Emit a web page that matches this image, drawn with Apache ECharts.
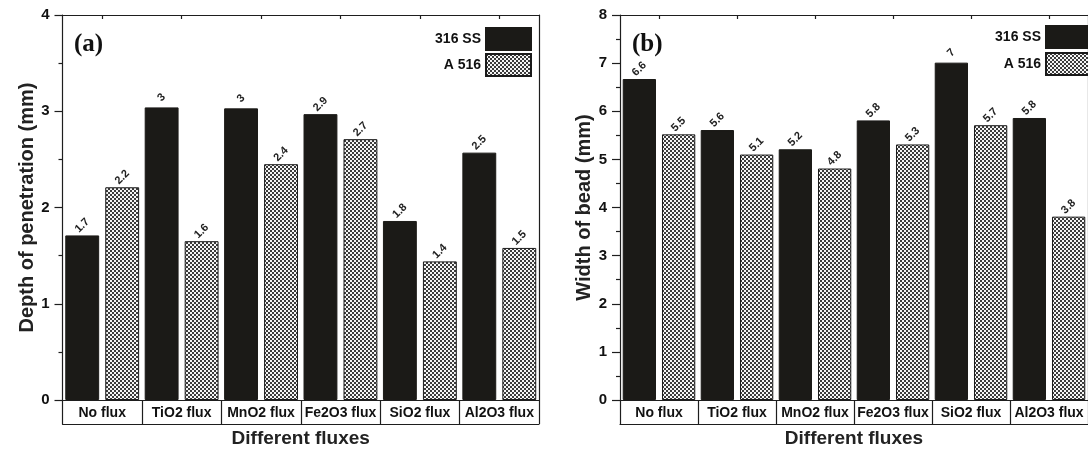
<!DOCTYPE html>
<html>
<head>
<meta charset="utf-8">
<script src="https://cdn.jsdelivr.net/npm/echarts@6/dist/echarts.min.js"></script>
<style>
html,body{margin:0;padding:0;background:#fff;}
#chart{width:1088px;height:455px;}
</style>
</head>
<body>
<div id="chart"></div>
<script>
const categories = ['No flux', 'TiO2 flux', 'MnO2 flux', 'Fe2O3 flux', 'SiO2 flux', 'Al2O3 flux'];
const seriesNames = ['316 SS', 'A 516'];
// (a) Depth of penetration (mm)
const depth316 = [1.71, 3.04, 3.03, 2.97, 1.86, 2.57];
const depthA516 = [2.21, 1.65, 2.45, 2.71, 1.44, 1.58];
const depth316Labels = ['1.7', '3', '3', '2.9', '1.8', '2.5'];
const depthA516Labels = ['2.2', '1.6', '2.4', '2.7', '1.4', '1.5'];
// (b) Width of bead (mm)
const width316 = [6.67, 5.61, 5.21, 5.81, 7.01, 5.86];
const widthA516 = [5.52, 5.10, 4.81, 5.31, 5.71, 3.81];
const width316Labels = ['6.6', '5.6', '5.2', '5.8', '7', '5.8'];
const widthA516Labels = ['5.5', '5.1', '4.8', '5.3', '5.7', '3.8'];

function makePattern() {
  const c = document.createElement('canvas');
  c.width = 4; c.height = 4;
  const g = c.getContext('2d');
  g.fillStyle = '#f6f6f6';
  g.fillRect(0, 0, 4, 4);
  g.fillStyle = '#3c3c3c';
  g.fillRect(0, 0, 2, 2);
  g.fillRect(2, 2, 2, 2);
  return c;
}
const hatch = { image: makePattern(), repeat: 'repeat' };

const FONT = 'Liberation Sans, Arial, sans-serif';
const AX = '#1e1e1e';

function gridAxes(gi, yMax, yName) {
  const x = [
    { // bottom, boxed category labels
      type: 'category', gridIndex: gi, data: categories, position: 'bottom',
      axisLine: { onZero: false, lineStyle: { color: AX, width: 1.2 } },
      axisTick: { show: true, alignWithLabel: false, length: 24, inside: false, lineStyle: { color: AX, width: 1.2 } },
      axisLabel: { margin: 6, color: '#111', fontFamily: FONT, fontWeight: 'bold', fontSize: 14, interval: 0 },
      name: 'Different fluxes', nameLocation: 'middle', nameGap: 29,
      nameTextStyle: { fontFamily: FONT, fontWeight: 'bold', fontSize: 19, color: '#222' }
    },
    { // bottom line of label boxes
      type: 'category', gridIndex: gi, data: categories, position: 'bottom', offset: 24,
      axisLine: { show: true, onZero: false, lineStyle: { color: AX, width: 1.2 } },
      axisTick: { show: false }, axisLabel: { show: false }
    },
    { // top frame
      type: 'category', gridIndex: gi, data: categories, position: 'top',
      axisLine: { onZero: false, lineStyle: { color: AX, width: 1.2 } },
      axisTick: { show: true, alignWithLabel: true, inside: true, length: 4, lineStyle: { color: AX, width: 1.2 } },
      axisLabel: { show: false }
    }
  ];
  const y = [
    {
      type: 'value', gridIndex: gi, min: 0, max: yMax, interval: 1, position: 'left',
      axisLine: { show: true, onZero: false, lineStyle: { color: AX, width: 1.2 } },
      axisTick: { show: true, length: 8, lineStyle: { color: AX, width: 1.2 } },
      minorTick: { show: true, splitNumber: 2, length: 4, lineStyle: { color: AX, width: 1.2 } },
      splitLine: { show: false },
      axisLabel: { margin: 13, color: '#111', fontFamily: FONT, fontWeight: 'bold', fontSize: 15 },
      name: yName, nameLocation: 'middle', nameGap: 25,
      nameTextStyle: { fontFamily: FONT, fontWeight: 'bold', fontSize: 20, color: '#222' }
    },
    {
      type: 'value', gridIndex: gi, min: 0, max: yMax, position: 'right',
      axisLine: { show: true, onZero: false, lineStyle: { color: AX, width: 1.2 } },
      axisTick: { show: false }, axisLabel: { show: false }, splitLine: { show: false }
    }
  ];
  return { x, y };
}

function barSeries(name, data, labels, xi, yi, isHatch) {
  return {
    type: 'bar', name: name, data: data, xAxisIndex: xi, yAxisIndex: yi,
    barCategoryGap: '7%', barGap: '18%',
    itemStyle: isHatch
      ? { color: hatch, borderColor: '#1a1a1a', borderWidth: 1 }
      : { color: '#1b1a17', borderColor: '#1b1a17', borderWidth: 1 },
    label: {
      show: true, position: 'top', distance: 10, rotate: 45,
      align: 'center', verticalAlign: 'middle',
      fontFamily: FONT, fontSize: 11, fontWeight: 'bold', color: '#222',
      formatter: p => labels[p.dataIndex]
    }
  };
}

const a = gridAxes(0, 4, 'Depth of penetration (mm)');
const b = gridAxes(1, 8, 'Width of bead (mm)');

const legendBase = {
  orient: 'vertical', itemWidth: 45, itemHeight: 22, align: 'right', icon: 'rect',
  data: [{ name: seriesNames[0] }, { name: seriesNames[1] }],
  textStyle: { fontFamily: FONT, fontWeight: 'bold', fontSize: 14, color: '#111' },
  selectedMode: false, padding: 0
};

const chart = echarts.init(document.getElementById('chart'), null, { renderer: 'canvas' });
chart.setOption({
  animation: false,
  backgroundColor: '#fff',
  title: [
    { text: '(a)', left: 69, top: 27, textStyle: { fontFamily: 'Liberation Serif, Times New Roman, serif', fontWeight: 'bold', fontSize: 25, color: '#111' } },
    { text: '(b)', left: 627, top: 27, textStyle: { fontFamily: 'Liberation Serif, Times New Roman, serif', fontWeight: 'bold', fontSize: 25, color: '#111' } }
  ],
  legend: [
    Object.assign({}, legendBase, { right: 556, top: 27, itemGap: 2 }),
    Object.assign({}, legendBase, { right: -4, top: 25, itemGap: 3 })
  ],
  grid: [
    { left: 62.5, top: 15, width: 476.5, height: 385 },
    { left: 620, top: 15, width: 475, height: 385 }
  ],
  xAxis: a.x.concat(b.x),
  yAxis: a.y.concat(b.y),
  series: [
    barSeries(seriesNames[0], depth316, depth316Labels, 0, 0, false),
    barSeries(seriesNames[1], depthA516, depthA516Labels, 0, 0, true),
    barSeries(seriesNames[0], width316, width316Labels, 3, 2, false),
    barSeries(seriesNames[1], widthA516, widthA516Labels, 3, 2, true)
  ]
});
</script>
</body>
</html>
